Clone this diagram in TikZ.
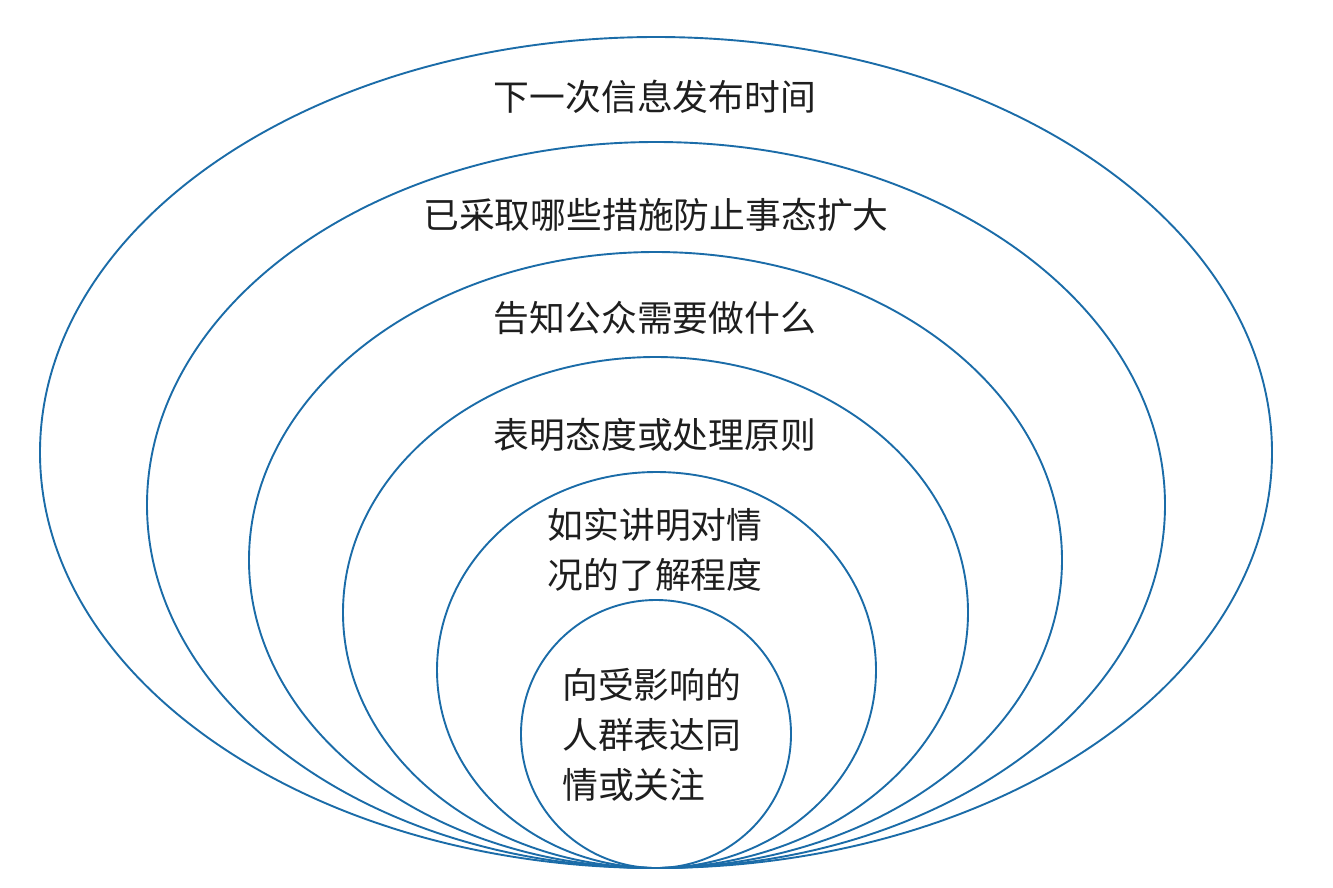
\documentclass[tikz,border=0pt]{standalone}
\usepackage{fontspec}
\setmainfont{Noto Sans CJK SC}
\begin{document}
\begin{tikzpicture}[x=1pt,y=-1pt,
  ring/.style={draw={rgb,255:red,27;green,108;blue,168},line width=1.9pt},
  lbl/.style={font=\fontsize{35.8}{50}\selectfont,text={rgb,255:red,30;green,30;blue,30},inner sep=0pt}]
\useasboundingbox (0,0) rectangle (1333,887);
\draw[ring] (656,452.5) ellipse [x radius=616pt, y radius=415.5pt];
\draw[ring] (656,505) ellipse [x radius=509pt, y radius=363pt];
\draw[ring] (655.5,560) ellipse [x radius=406.5pt, y radius=308pt];
\draw[ring] (655.5,612.5) ellipse [x radius=312.5pt, y radius=255.5pt];
\draw[ring] (656.5,670) ellipse [x radius=219.5pt, y radius=198pt];
\draw[ring] (656,734) ellipse [x radius=135pt, y radius=134pt];
\node[lbl] (t1) at (655,97) {下一次信息发布时间};
\node[lbl] (t2) at (656,215) {已采取哪些措施防止事态扩大};
\node[lbl] (t3) at (655,318) {告知公众需要做什么};
\node[lbl] (t4) at (655,435) {表明态度或处理原则};
\node[lbl,align=center] (t5) at (655,550) {如实讲明对情\\况的了解程度};
\node[lbl,align=left,anchor=west] (t6) at (562,735) {向受影响的\\人群表达同\\情或关注};
\end{tikzpicture}
\end{document}
